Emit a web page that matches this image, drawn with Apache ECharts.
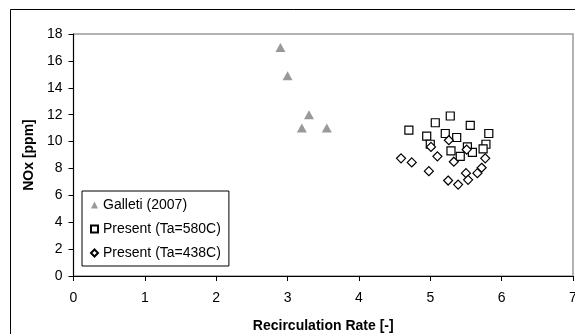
<!DOCTYPE html>
<html>
<head>
<meta charset="utf-8">
<script src="https://cdn.jsdelivr.net/npm/echarts@6/dist/echarts.min.js"></script>
<style>
  html, body { margin: 0; padding: 0; background: #fff; }
  #chart { width: 575px; height: 334px; }
</style>
</head>
<body>
<div id="chart"></div>
<script>
// Recirculation rate [-] and NOx [ppm] pairs for each data set
const galletiX = [2.90, 3.00, 3.30, 3.20, 3.55];
const galletiY = [17.0, 14.9, 12.0, 11.0, 11.0];

const present580X = [5.28, 5.07, 5.56, 4.95, 5.21, 5.37, 5.82, 5.00, 5.78, 5.52, 5.59, 5.74, 5.29, 5.42, 4.70];
const present580Y = [11.9, 11.4, 11.2, 10.4, 10.6, 10.3, 10.6, 9.8, 9.8, 9.6, 9.2, 9.45, 9.3, 8.9, 10.85];

const present438X = [5.26, 5.01, 5.51, 5.10, 5.33, 5.77, 4.98, 5.72, 5.66, 5.50, 5.25, 5.39, 5.53, 4.59, 4.74];
const present438Y = [10.1, 9.6, 9.4, 8.9, 8.5, 8.75, 7.8, 8.05, 7.65, 7.65, 7.1, 6.8, 7.15, 8.75, 8.45];

const seriesNames = ['Galleti (2007)', 'Present (Ta=580C)', 'Present (Ta=438C)'];

const xMin = 0, xMax = 7, xStep = 1;
const yMin = 0, yMax = 18, yStep = 2;

function pairs(xs, ys) {
  return xs.map((x, i) => [x, ys[i]]);
}

const font = '"Liberation Sans", Arial, sans-serif';
const chart = echarts.init(document.getElementById('chart'), null, { renderer: 'canvas' });

chart.setOption({
  animation: false,
  backgroundColor: '#fff',
  graphic: [{
    type: 'rect',
    shape: { x: 10.5, y: 9.5, width: 600, height: 400 },
    style: { fill: 'none', stroke: '#000', lineWidth: 1 },
    z: 0
  }],
  grid: {
    left: 73.5, top: 34, right: 2, bottom: 58,
    containLabel: false,
    outerBoundsMode: 'none',
    show: true, borderColor: '#9a9a9a', borderWidth: 1.5,
    backgroundColor: 'transparent'
  },
  legend: {
    orient: 'vertical',
    left: 82, top: 191,
    padding: [7, 8, 6, 8],
    itemGap: 10,
    itemWidth: 7, itemHeight: 7,
    backgroundColor: '#fff',
    borderColor: '#000', borderWidth: 1,
    textStyle: { fontFamily: font, fontSize: 14, color: '#000' },
    data: seriesNames
  },
  xAxis: {
    type: 'value', min: xMin, max: xMax, interval: xStep,
    name: 'Recirculation Rate [-]', nameLocation: 'middle', nameGap: 43,
    nameTextStyle: { fontFamily: font, fontSize: 14, fontWeight: 'bold', color: '#000' },
    axisLine: { show: true, lineStyle: { color: '#000', width: 1 } },
    axisTick: { show: true, inside: false, length: 5, lineStyle: { color: '#000' } },
    axisLabel: { fontFamily: font, fontSize: 14, color: '#000', margin: 15 },
    splitLine: { show: false }
  },
  yAxis: {
    type: 'value', min: yMin, max: yMax, interval: yStep,
    name: 'NOx [ppm]', nameLocation: 'middle', nameGap: 37,
    nameTextStyle: { fontFamily: font, fontSize: 14, fontWeight: 'bold', color: '#000' },
    axisLine: { show: true, lineStyle: { color: '#000', width: 1 } },
    axisTick: { show: true, inside: false, length: 5, lineStyle: { color: '#000' } },
    axisLabel: { fontFamily: font, fontSize: 14, color: '#000', margin: 11 },
    splitLine: { show: false }
  },
  series: [
    {
      name: seriesNames[0], type: 'scatter',
      symbol: 'triangle', symbolSize: [10, 9],
      itemStyle: { color: '#808080', borderWidth: 0 },
      data: pairs(galletiX, galletiY), z: 3
    },
    {
      name: seriesNames[1], type: 'scatter',
      symbol: 'rect', symbolSize: 8,
      itemStyle: { color: '#fff', borderColor: '#000', borderWidth: 1.2, opacity: 1 },
      data: pairs(present580X, present580Y), z: 3
    },
    {
      name: seriesNames[2], type: 'scatter',
      symbol: 'diamond', symbolSize: 9,
      itemStyle: { color: '#fff', borderColor: '#000', borderWidth: 1.2, opacity: 1 },
      data: pairs(present438X, present438Y), z: 4
    }
  ]
});
</script>
</body>
</html>
